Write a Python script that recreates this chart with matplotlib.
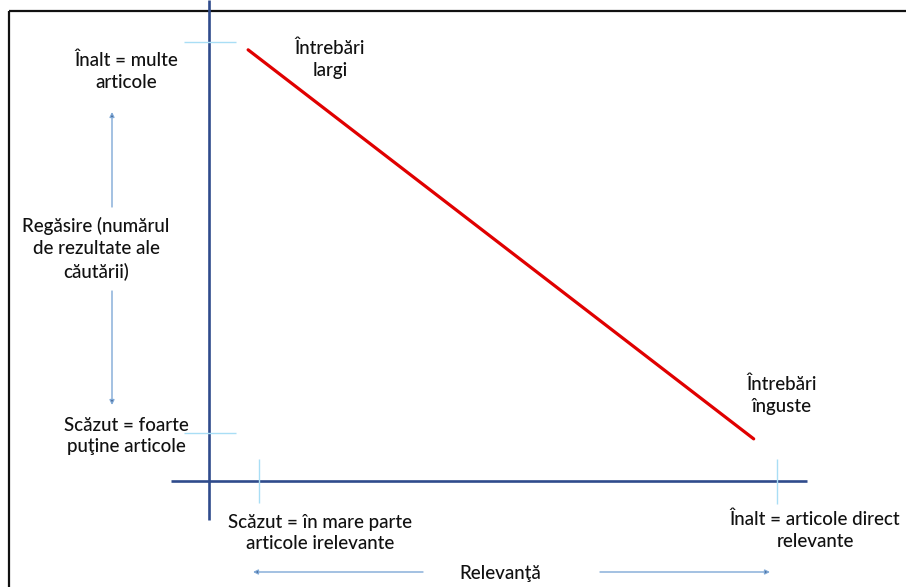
import matplotlib.pyplot as plt

# linia roșie: relevanță (0 = scăzut, 1 = înalt) vs regăsire (0 = scăzut, 1 = înalt)
relevanta = [-0.021, 0.955]
regasire = [0.980, -0.015]
capete = ['Întrebări\nlargi', 'Întrebări\nînguste']

W, H = 906, 587
X0, XS = 259, 518   # pixel pentru relevanță 0 și lungimea până la 1
Y0, YS = 433, 391   # pixel pentru regăsire 0 și înălțimea până la 1


def P(x, y):
    # din pixeli în coordonatele datelor
    return (x - X0) / XS, (Y0 - y) / YS


plt.rcParams['font.family'] = ['Lato', 'DejaVu Sans']
fig = plt.figure(figsize=(W / 100, H / 100), dpi=100)
ax = fig.add_axes([0, 0, 1, 1])
ax.set_xlim(P(0, 0)[0], P(W, 0)[0])
ax.set_ylim(P(0, H)[1], P(0, 0)[1])
ax.axis('off')

def seg(x1, y1, x2, y2, **kw):
    a, b = P(x1, y1), P(x2, y2)
    ax.plot([a[0], b[0]], [a[1], b[1]], solid_capstyle='butt', **kw)

# chenar (doar sus și stânga)
seg(9, 11, W, 11, color='#111111', lw=1.6)
seg(9, 11, 9, H, color='#111111', lw=1.6)

# axele
seg(209, 0, 209, 520, color='#2f4b8c', lw=1.9)
seg(171, 481, 807, 481, color='#2f4b8c', lw=1.9)

# semne de capăt, albastru deschis
tick = dict(color='#a9def5', lw=1.0)
seg(184, 42, 236, 42, **tick)
seg(184, 433, 236, 433, **tick)
seg(259, 459, 259, 503, **tick)
seg(777, 459, 777, 504, **tick)

# linia roșie
ax.plot(relevanta, regasire, color='#e00000', lw=2.3, solid_capstyle='round')

# săgeți subțiri
def arrow(x1, y1, x2, y2):
    ax.annotate('', xy=P(x2, y2), xytext=P(x1, y1),
                arrowprops=dict(arrowstyle='-|>', color='#7fa8d6', lw=1.0,
                                mutation_scale=7, shrinkA=0, shrinkB=0,
                                fc='#1f3864', ec='#7fa8d6'))

arrow(112, 207, 112, 112)
arrow(112, 291, 112, 405)
arrow(423, 572, 253, 572)
arrow(600, 572, 770, 572)

txt = dict(ha='center', va='center', fontsize=13.5, color='#111111',
           linespacing=1.35, fontweight='medium')
ax.text(*P(126, 71), 'Înalt = multe\narticole', **txt)
ax.text(*P(96, 249), 'Regăsire (numărul\nde rezultate ale\ncăutării)', **txt)
ax.text(*P(126, 436), 'Scăzut = foarte\npuţine articole', **txt)
ax.text(*P(320, 533), 'Scăzut = în mare parte\narticole irelevante', **txt)
ax.text(*P(815, 530), 'Înalt = articole direct\nrelevante', **txt)
ax.text(*P(500, 573), 'Relevanţă', **txt)
ax.text(*P(330, 59), capete[0], **txt)
ax.text(*P(782, 395), capete[1], **txt)

fig.savefig('out.png', dpi=100)
